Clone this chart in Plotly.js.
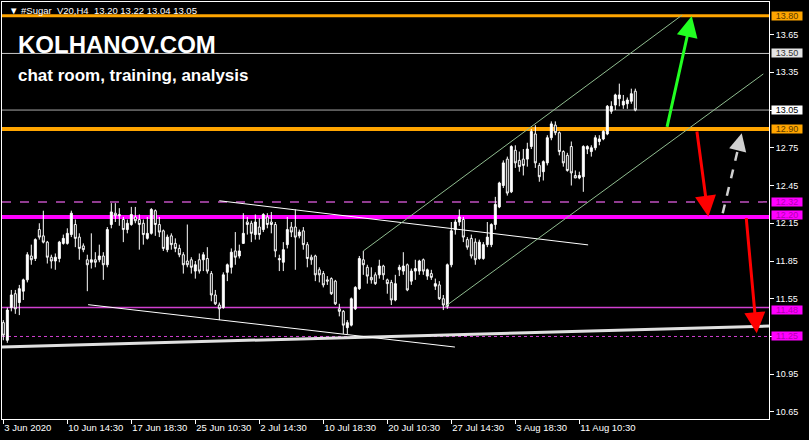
<!DOCTYPE html>
<html><head><meta charset="utf-8">
<script src="https://cdn.plot.ly/plotly-3.0.1.min.js"></script>
<style>html,body{margin:0;padding:0;background:#000;}#chart{width:809px;height:440px;}</style>
</head><body><div id="chart"></div>
<script>
// ---- data (H4 bars, #Sugar V20) ----
const opens  = [11.36,11.22,11.48,11.59,11.52,11.61,11.70,11.89,11.87,12.10,12.05,12.00,11.88,11.85,11.87,11.99,11.99,12.06,12.14,12.04,11.97,11.86,11.84,11.86,11.86,11.89,11.82,12.14,12.23,12.22,
12.18,12.10,12.14,12.20,12.18,12.15,12.03,12.07,12.25,12.14,12.09,11.94,12.05,11.99,11.95,11.90,11.85,11.86,11.77,11.86,11.86,11.87,11.75,11.58,11.50,11.48,11.76,11.80,11.93,11.89,
11.99,12.16,12.15,12.06,12.12,12.10,12.20,12.16,12.14,11.87,11.84,11.98,12.12,12.12,12.05,12.09,11.98,11.88,11.89,11.78,11.75,11.70,11.71,11.69,11.47,11.45,11.32,11.34,11.47,11.63,
11.86,11.80,11.72,11.74,11.74,11.81,11.70,11.68,11.54,11.78,11.77,11.82,11.69,11.77,11.77,11.86,11.73,11.75,11.65,11.66,11.55,11.49,11.82,12.10,12.16,12.18,12.02,12.03,12.00,11.87,
11.87,11.98,11.98,12.14,12.28,12.45,12.66,12.40,12.73,12.65,12.66,12.66,12.76,12.86,12.61,12.56,12.63,12.83,12.93,12.87,12.72,12.69,12.76,12.53,12.51,12.52,12.74,12.72,12.75,12.80,
12.82,12.86,13.04,13.09,13.14,13.09,13.10,13.12,13.20];
const highs  = [11.38,11.48,11.62,11.62,11.66,11.71,11.92,11.98,12.03,12.15,12.25,12.01,11.90,11.91,12.01,12.06,12.11,12.25,12.18,12.07,11.99,11.90,12.07,11.92,11.98,11.92,12.12,12.31,12.31,12.27,
12.20,12.18,12.28,12.28,12.22,12.18,12.20,12.27,12.26,12.20,12.10,12.06,12.07,12.03,11.98,11.92,12.14,11.88,11.85,11.91,11.92,11.96,11.77,11.62,11.52,11.76,11.83,11.95,12.08,11.98,
12.23,12.20,12.17,12.22,12.19,12.23,12.23,12.24,12.16,11.90,12.00,12.20,12.16,12.26,12.10,12.12,12.00,11.90,11.90,11.80,11.77,11.73,11.72,11.70,11.51,11.46,11.38,11.56,11.65,11.89,
11.93,11.82,11.80,11.76,11.86,11.82,11.71,11.70,11.74,11.82,11.92,11.83,11.79,11.86,11.86,11.87,11.79,11.78,11.71,11.69,11.58,11.83,12.16,12.18,12.26,12.20,12.04,12.06,12.03,12.02,
12.00,12.16,12.15,12.36,12.48,12.65,12.68,12.77,12.77,12.72,12.74,12.79,12.90,12.93,12.63,12.65,12.85,12.96,12.96,12.88,12.73,12.71,12.80,12.57,12.56,12.77,12.77,12.77,12.85,12.85,
12.89,13.09,13.12,13.18,13.26,13.17,13.15,13.22,13.22];
const lows   = [11.22,11.20,11.45,11.43,11.42,11.54,11.68,11.82,11.85,12.02,11.99,11.83,11.79,11.78,11.84,11.98,11.98,12.04,11.96,11.86,11.92,11.61,11.79,11.80,11.84,11.70,11.80,12.11,12.16,12.13,
12.00,12.07,12.13,12.15,11.94,11.98,12.02,12.06,12.05,12.04,11.93,11.92,11.94,11.92,11.88,11.75,11.80,11.75,11.71,11.75,11.77,11.75,11.53,11.50,11.38,11.47,11.69,11.75,11.82,11.87,
11.99,12.06,12.00,12.02,12.02,12.08,12.11,12.07,11.88,11.77,11.77,11.95,12.04,11.78,12.03,11.94,11.80,11.82,11.69,11.68,11.64,11.66,11.58,11.50,11.41,11.27,11.27,11.33,11.46,11.62,
11.74,11.67,11.67,11.66,11.71,11.70,11.59,11.50,11.53,11.73,11.74,11.61,11.66,11.70,11.74,11.74,11.70,11.70,11.62,11.54,11.46,11.47,11.80,12.06,12.13,12.00,11.94,11.87,11.82,11.86,
11.86,11.96,11.96,12.10,12.27,12.43,12.37,12.39,12.59,12.56,12.53,12.60,12.74,12.59,12.48,12.49,12.61,12.81,12.85,12.69,12.60,12.56,12.45,12.51,12.50,12.40,12.70,12.68,12.73,12.77,
12.81,12.85,13.02,13.05,13.08,13.06,13.06,13.10,13.04];
const closes = [11.26,11.46,11.58,11.47,11.63,11.70,11.90,11.86,12.02,12.04,12.00,11.88,11.85,11.88,12.00,12.03,12.07,12.23,12.03,11.95,11.94,11.82,11.86,11.84,11.89,11.82,12.10,12.24,12.21,12.21,
12.10,12.15,12.22,12.17,12.14,12.06,12.07,12.26,12.14,12.08,11.95,12.04,11.98,11.95,11.90,11.82,11.82,11.80,11.82,11.77,11.90,11.77,11.58,11.51,11.47,11.74,11.82,11.92,11.88,11.93,
12.07,12.14,12.07,12.16,12.06,12.22,12.14,12.14,11.93,11.86,11.94,12.10,12.08,12.04,12.08,11.98,11.87,11.86,11.74,11.74,11.66,11.69,11.59,11.51,11.45,11.34,11.36,11.55,11.64,11.87,
11.82,11.73,11.70,11.67,11.81,11.74,11.67,11.54,11.67,11.80,11.81,11.62,11.77,11.79,11.85,11.77,11.78,11.72,11.67,11.55,11.50,11.82,12.09,12.16,12.20,12.04,11.96,11.89,11.86,12.00,
11.98,12.04,12.14,12.30,12.47,12.63,12.39,12.76,12.63,12.60,12.61,12.74,12.88,12.63,12.52,12.64,12.83,12.94,12.87,12.72,12.63,12.57,12.55,12.51,12.53,12.76,12.76,12.75,12.83,12.82,
12.88,13.08,13.08,13.17,13.17,13.12,13.13,13.18,13.05];

const tickLabels = ['3 Jun 2020','10 Jun 14:30','17 Jun 18:30','25 Jun 10:30','2 Jul 14:30','10 Jul 18:30','20 Jul 10:30','27 Jul 14:30','3 Aug 18:30','11 Aug 10:30'];
const barsPerLabel = 16;
const priceTicks = [10.65,10.95,11.25,11.55,11.85,12.15,12.45,12.75,13.05,13.35,13.65];
const levelPrices = [13.80,13.50,13.05,12.90,12.32,12.20,11.48,11.25];
const headerText = '\u25BC #Sugar  V20,H4  13.20 13.22 13.04 13.05';
const brandText = 'KOLHANOV.COM';
const subText = 'chat room, training, analysis';
// trend lines [barIndex, price]
const trendStarts = [[-0.33,11.166],[21.2,11.503],[54.0,12.329],[90,11.93],[110.4,11.487]];
const trendEnds   = [[191.42,11.333],[112.9,11.166],[146.2,11.978],[169.7,13.805],[190,13.337]];
// arrows [barIndex, price]
const arrowTails = [[165.85,12.905],[173.35,12.891],[179.85,12.229],[185.7,12.202]];
const arrowHeads = [[172.1,13.798],[176.25,12.202],[184.6,12.865],[188.35,11.275]];

// ---- styles ----
const levelStyles = [
  {c:'#FFA500', w:3, d:'solid', bg:'#FFA500', fc:'#5a3a00', ys:0},
  {c:'#C8C8C8', w:1, d:'solid', bg:'#E4E4E4', fc:'#333333', ys:0},
  {c:'#A8A8A8', w:1, d:'solid', bg:'#FFFFFF', fc:'#000000', ys:0},
  {c:'#FFA500', w:4, d:'solid', bg:'#FFA500', fc:'#5a3a00', ys:0},
  {c:'#C050C0', w:1.5, d:'dash', bg:'#FF00FF', fc:'#B000B0', ys:0},
  {c:'#FF00FF', w:4, d:'solid', bg:'#FF00FF', fc:'#B000B0', ys:2},
  {c:'#D040D0', w:1.5, d:'solid', bg:'#FF00FF', fc:'#B000B0', ys:-2},
  {c:'#D040D0', w:1, d:'dot', bg:'#FF00FF', fc:'#B000B0', ys:0}
];
const trendStyles = [
  {c:'#E0E0E0', w:3},{c:'#FFFFFF', w:1},{c:'#FFFFFF', w:1},{c:'#8FBC8F', w:1},{c:'#8FBC8F', w:1}
];
const arrowStyles = [
  {c:'#22FF22', dash:false},{c:'#FF0000', dash:false},{c:'#D0D0D0', dash:true},{c:'#FF0000', dash:false}
];

const xs = opens.map((_, i) => i);
const FONT = 'Liberation Sans, Arial, sans-serif';

const trace = {
  type:'candlestick', x: xs, open: opens, high: highs, low: lows, close: closes,
  increasing:{line:{color:'#FFFFFF', width:1}, fillcolor:'#FFFFFF'},
  decreasing:{line:{color:'#FFFFFF', width:1}, fillcolor:'#000000'},
  whiskerwidth:0, hoverinfo:'skip', showlegend:false
};

const shapes = [];
levelPrices.forEach((p, i) => {
  const s = levelStyles[i];
  shapes.push({type:'line', xref:'paper', yref:'y', x0:0, x1:1, y0:p, y1:p, line:{color:s.c, width:s.w, dash:s.d}, layer:'below'});
});
trendStarts.forEach((st, i) => {
  const en = trendEnds[i], s = trendStyles[i];
  shapes.push({type:'line', xref:'x', yref:'y', x0:st[0], y0:st[1], x1:en[0], y1:en[1], line:{color:s.c, width:s.w}, layer: i===0 ? 'below' : 'above'});
});

const annotations = [];
levelPrices.forEach((p, i) => {
  const s = levelStyles[i];
  annotations.push({xref:'paper', yref:'y', x:1, y:p, xanchor:'left', yanchor:'middle', xshift:2, yshift:s.ys,
    text:p.toFixed(2), showarrow:false, bgcolor:s.bg, font:{family:FONT, size:9, color:s.fc},
    width:30, height:8, borderpad:0, align:'center'});
});
arrowTails.forEach((t, i) => {
  const h = arrowHeads[i], s = arrowStyles[i];
  if (s.dash) {
    const f = 0.8;
    const mx = t[0] + (h[0]-t[0])*f, my = t[1] + (h[1]-t[1])*f;
    shapes.push({type:'line', xref:'x', yref:'y', x0:t[0], y0:t[1], x1:mx, y1:my, line:{color:s.c, width:2.5, dash:'dash'}});
    annotations.push({xref:'x', yref:'y', axref:'x', ayref:'y', x:h[0], y:h[1], ax:mx, ay:my, text:'', showarrow:true,
      arrowhead:2, arrowsize:1.4, arrowwidth:2.5, arrowcolor:s.c, standoff:0, startstandoff:0});
  } else {
    annotations.push({xref:'x', yref:'y', axref:'x', ayref:'y', x:h[0], y:h[1], ax:t[0], ay:t[1], text:'', showarrow:true,
      arrowhead:2, arrowsize:1.4, arrowwidth:3, arrowcolor:s.c, standoff:0, startstandoff:0});
  }
});
annotations.push({xref:'paper', yref:'paper', x:0.0065, y:0.9796, xanchor:'left', yanchor:'middle', text:headerText, showarrow:false,
  font:{family:FONT, size:9.5, color:'#FFFFFF'}});
annotations.push({xref:'paper', yref:'paper', x:0.0183, y:0.898, xanchor:'left', yanchor:'middle', text:'<b>'+brandText+'</b>', showarrow:false,
  font:{family:FONT, size:24, color:'#FFFFFF'}});
annotations.push({xref:'paper', yref:'paper', x:0.0183, y:0.8237, xanchor:'left', yanchor:'middle', text:'<b>'+subText+'</b>', showarrow:false,
  font:{family:FONT, size:17, color:'#FFFFFF'}});

const layout = {
  width:809, height:440,
  margin:{l:2, r:40, t:2, b:21, pad:0},
  paper_bgcolor:'#000000', plot_bgcolor:'#000000',
  showlegend:false,
  font:{family:FONT, color:'#FFFFFF', size:9.5},
  xaxis:{
    type:'linear', range:[-0.33, 191.42], rangeslider:{visible:false},
    tickvals: tickLabels.map((_, i) => i*barsPerLabel), ticktext: tickLabels,
    ticks:'outside', ticklen:4, tickcolor:'#FFFFFF', tickwidth:1,
    ticklabelposition:'outside right',
    tickfont:{family:FONT, size:9.5, color:'#FFFFFF'},
    showgrid:false, zeroline:false, showline:true, mirror:true, linecolor:'#FFFFFF', linewidth:1, fixedrange:true
  },
  yaxis:{
    side:'right', range:[10.594, 13.909],
    tickvals: priceTicks, ticktext: priceTicks.map(v => v.toFixed(2)),
    ticks:'outside', ticklen:4, tickcolor:'#FFFFFF', tickwidth:1,
    tickfont:{family:FONT, size:9, color:'#FFFFFF'},
    showgrid:false, zeroline:false, showline:true, mirror:true, linecolor:'#FFFFFF', linewidth:1, fixedrange:true
  },
  shapes: shapes,
  annotations: annotations
};

Plotly.newPlot('chart', [trace], layout, {displayModeBar:false, staticPlot:true});
</script>
</body></html>
